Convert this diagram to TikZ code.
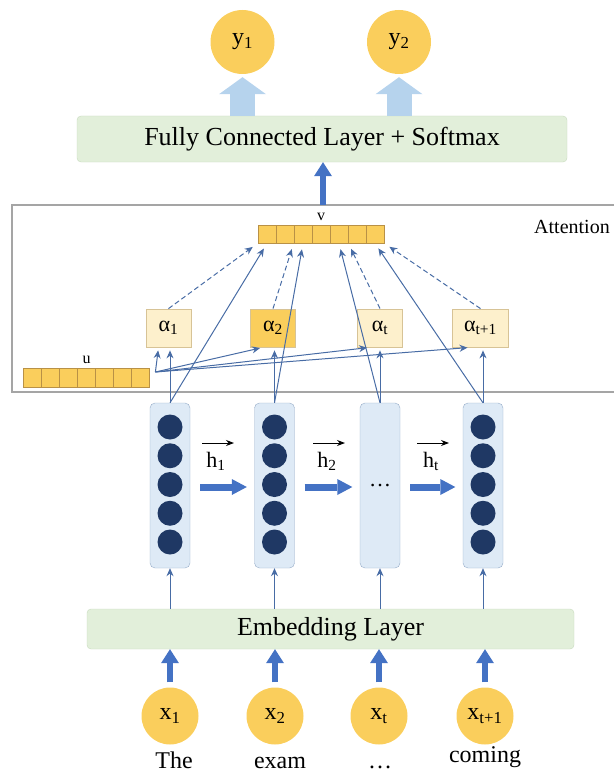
\documentclass[tikz,border=0pt]{standalone}
\usepackage{fontspec}
\setmainfont{Liberation Serif}
\usepackage{xcolor}
\usetikzlibrary{arrows.meta}

\definecolor{ballfill}{RGB}{250,206,92}
\definecolor{cellline}{RGB}{185,145,70}
\definecolor{wfill}{RGB}{253,240,204}
\definecolor{wline}{RGB}{215,195,150}
\definecolor{layerfill}{RGB}{226,239,218}
\definecolor{layerline}{RGB}{200,218,190}
\definecolor{outblue}{RGB}{182,211,237}
\definecolor{colfill}{RGB}{222,234,246}
\definecolor{colline}{RGB}{150,172,200}
\definecolor{navy}{RGB}{31,56,100}
\definecolor{arrowblue}{RGB}{68,114,196}
\definecolor{linec}{RGB}{72,108,165}
\definecolor{framec}{RGB}{165,165,165}

\tikzset{
  ball/.style={circle, fill=ballfill, inner sep=0pt},
  layer/.style={draw=layerline, fill=layerfill, rounded corners=4pt, font=\fontsize{26}{30}\selectfont},
  vcell/.style={draw=cellline, fill=ballfill, line width=0.8pt, minimum width=18pt, minimum height=18pt, inner sep=0pt},
  wbox/.style={draw=wline, line width=0.8pt, minimum width=45pt, minimum height=38pt, inner xsep=12pt, font=\fontsize{22}{26}\selectfont},
  colbox/.style={draw=colline, fill=colfill, rounded corners=5pt, minimum width=40pt, minimum height=165pt},
  neuron/.style={circle, fill=navy, minimum size=25pt, inner sep=0pt},
  conn/.style={draw=linec, line width=1pt, -{Stealth[length=8pt,width=7pt]}},
  thickarrow/.style={draw=arrowblue, line width=6.5pt, -{Triangle[length=14pt,width=18pt,line width=0pt]}},
  outarrow/.style={draw=outblue, line width=25pt, -{Triangle[length=17pt,width=47pt,line width=0pt]}},
  recflow/.style={draw=arrowblue, line width=7pt, -{Triangle[length=15pt,width=16pt,line width=0pt]}},
  vecarrow/.style={draw=black, line width=1pt, -{Stealth[length=8pt,width=6pt]}},
  wordlab/.style={font=\fontsize{24}{28}\selectfont, inner sep=0pt}
}

\begin{document}
\begin{tikzpicture}[x=1pt,y=-1pt]
  \useasboundingbox (0,0) rectangle (614,773);
  \def\ycol{485.5}

  % attention frame
  \draw[framec, line width=1.2pt] (614,205) -- (12,205) -- (12,392) -- (614,392);
  \coordinate (attop) at (323,205);
  \node[font=\fontsize{20}{24}\selectfont] (attn) at (572,227) {Attention};

  % output
  \node[ball, minimum size=64pt, font=\fontsize{24}{28}\selectfont] (y1) at (242.5,42) {y\textsubscript{1}};
  \node[ball, minimum size=64pt, font=\fontsize{24}{28}\selectfont] (y2) at (399,42) {y\textsubscript{2}};
  \node[layer, minimum width=490pt, minimum height=46pt] (fc) at (322,139) {Fully Connected Layer + Softmax};
  \draw[outarrow, shorten >=3pt] (y1 |- fc.north) -- (y1.south);
  \draw[outarrow, shorten >=3pt] (y2 |- fc.north) -- (y2.south);
  \draw[thickarrow] (attop) -- (attop |- fc.south);

  % context vector v and query u
  \foreach \i in {0,...,6} {
    \node[vcell] (v\i) at (267+18*\i,234) {};
    \node[vcell, minimum height=19pt] (u\i) at (32.5+18*\i,377.5) {};
  }
  \node[above, font=\fontsize{16}{18}\selectfont] (vlab) at (v3.north) {v};
  \node[above, font=\fontsize{16}{18}\selectfont] (ulab) at (u3.north) {u};

  % attention weights
  \foreach \i/\x/\s/\c in {1/168.5/1/wfill,2/273/2/ballfill,3/380/t/wfill,4/480.5/t+1/wfill}
    \node[wbox, fill=\c] (a\i) at (\x,328) {α\textsubscript{\s}};

  % hidden states
  \foreach \i/\x in {1/170,2/274.5,3/380,4/483} {
    \node[colbox] (h\i) at (\x,\ycol) {};
    \ifnum\i=3
      \node[font=\fontsize{22}{26}\selectfont] (hdots) at (h\i) {…};
    \else
      \foreach \k in {0,...,4}
        \node[neuron] (n\i\k) at (\x,427+28.75*\k) {};
    \fi
  }
  \foreach \i/\j/\s/\x in {1/2/1/216,2/3/2/327,3/4/t/431} {
    \draw[recflow, shorten <=10pt, shorten >=7.5pt] ([yshift=-1.5pt]h\i.east) -- ([yshift=-1.5pt]h\j.west);
    \node[font=\fontsize{22}{26}\selectfont, inner sep=0pt] (hl\i) at (\x,461) {h\textsubscript{\s}};
    \draw[vecarrow] (\x-14,443) -- (\x+18,443);
  }

  % links inside the attention block
  \coordinate (usrc) at ([xshift=5.5pt,yshift=5.5pt]u6.east);
  \foreach \i in {1,...,4} {
    \draw[conn, shorten >=3pt] (h\i.north) -- (h\i.north |- a\i.south);
    \draw[conn, shorten >=3pt] (usrc) -- ([xshift=-10pt]a\i.south);
  }
  \foreach \i/\c in {1/0,2/2,3/4,4/6}
    \draw[conn, shorten >=6pt] (h\i.north) -- (v\c.south);
  \foreach \i/\c in {1/0.south west,2/2.south west,3/4.south east,4/6.south east}
    \draw[conn, dash pattern=on 5pt off 3pt, shorten >=6pt] (a\i.north) -- (v\c);

  % embedding and inputs
  \node[layer, minimum width=487pt, minimum height=40pt] (emb) at (330.5,629) {Embedding Layer};
  \foreach \i in {1,...,4}
    \draw[conn] (emb.north -| h\i) -- (h\i.south);
  \foreach \i/\x/\s in {1/170/1,2/275/2,3/379/t,4/485/t+1} {
    \node[ball, minimum size=57pt, font=\fontsize{24}{28}\selectfont] (x\i) at (\x,716) {x\textsubscript{\s}};
    \draw[thickarrow, shorten <=5pt] (x\i.north) -- (x\i.north |- emb.south);
  }
  \node[wordlab, anchor=base] (w1) at (174,768) {The};
  \node[wordlab, anchor=base] (w2) at (280,768) {exam};
  \node[wordlab, anchor=base] (w3) at (380,768) {…};
  \node[wordlab, anchor=base] (w4) at (485,762) {coming};
\end{tikzpicture}
\end{document}
